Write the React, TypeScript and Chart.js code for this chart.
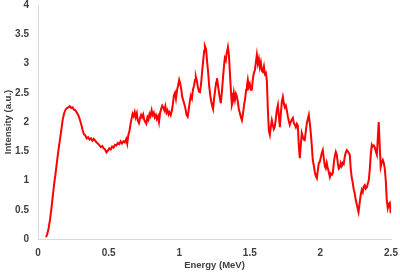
import React, { useEffect, useRef } from "react";
import { Chart, registerables } from "chart.js";

Chart.register(...registerables);

const energy: number[] = [
  0.057, 0.065, 0.075, 0.085, 0.095, 0.105, 0.115, 0.125, 0.135, 0.145, 0.155, 0.165, 0.175, 0.185, 0.195,
  0.205, 0.215, 0.225, 0.235, 0.245, 0.255, 0.265, 0.275, 0.285, 0.295, 0.305, 0.315, 0.325, 0.335, 0.345,
  0.355, 0.365, 0.375, 0.385, 0.395, 0.405, 0.415, 0.425, 0.435, 0.445, 0.455, 0.465, 0.475, 0.485, 0.495,
  0.505, 0.515, 0.525, 0.535, 0.545, 0.555, 0.565, 0.575, 0.585, 0.595, 0.605, 0.615, 0.625, 0.632, 0.64,
  0.648, 0.655, 0.662, 0.67, 0.677, 0.685, 0.692, 0.7, 0.707, 0.715, 0.722, 0.73, 0.737, 0.745, 0.752,
  0.76, 0.767, 0.775, 0.782, 0.79, 0.797, 0.805, 0.812, 0.82, 0.827, 0.835, 0.842, 0.85, 0.857, 0.865,
  0.872, 0.88, 0.887, 0.895, 0.902, 0.91, 0.917, 0.925, 0.932, 0.94, 0.947, 0.955, 0.962, 0.97, 0.977,
  0.985, 0.992, 1.0, 1.007, 1.015, 1.022, 1.03, 1.037, 1.045, 1.052, 1.06, 1.067, 1.075, 1.082, 1.09,
  1.097, 1.105, 1.112, 1.118, 1.125, 1.132, 1.14, 1.147, 1.155, 1.162, 1.17, 1.177, 1.182, 1.19, 1.197,
  1.205, 1.212, 1.22, 1.227, 1.235, 1.24, 1.247, 1.255, 1.262, 1.267, 1.275, 1.282, 1.29, 1.295, 1.302,
  1.31, 1.317, 1.323, 1.33, 1.337, 1.345, 1.352, 1.36, 1.367, 1.373, 1.38, 1.387, 1.395, 1.402, 1.408,
  1.415, 1.422, 1.43, 1.437, 1.444, 1.452, 1.46, 1.467, 1.474, 1.48, 1.486, 1.493, 1.5, 1.507, 1.514,
  1.52, 1.527, 1.536, 1.543, 1.55, 1.557, 1.564, 1.571, 1.578, 1.585, 1.592, 1.6, 1.607, 1.614, 1.621,
  1.628, 1.635, 1.642, 1.649, 1.656, 1.663, 1.67, 1.677, 1.684, 1.691, 1.699, 1.706, 1.713, 1.72, 1.727,
  1.734, 1.741, 1.748, 1.755, 1.762, 1.769, 1.776, 1.783, 1.79, 1.797, 1.805, 1.812, 1.819, 1.826, 1.833,
  1.84, 1.847, 1.854, 1.861, 1.868, 1.875, 1.882, 1.889, 1.897, 1.904, 1.911, 1.918, 1.925, 1.932, 1.939,
  1.946, 1.953, 1.96, 1.967, 1.975, 1.982, 1.989, 1.996, 2.003, 2.01, 2.017, 2.024, 2.031, 2.038, 2.045,
  2.052, 2.059, 2.067, 2.074, 2.081, 2.088, 2.095, 2.102, 2.109, 2.116, 2.123, 2.13, 2.137, 2.144, 2.151,
  2.158, 2.165, 2.172, 2.18, 2.187, 2.194, 2.201, 2.208, 2.215, 2.222, 2.229, 2.236, 2.243, 2.25, 2.257,
  2.264, 2.27, 2.277, 2.285, 2.293, 2.3, 2.307, 2.314, 2.321, 2.328, 2.336, 2.343, 2.35, 2.357, 2.364,
  2.371, 2.378, 2.385, 2.392, 2.4, 2.406, 2.413, 2.42, 2.427, 2.434, 2.442, 2.449, 2.456, 2.463, 2.47,
  2.477, 2.484, 2.491, 2.498,
];

const intensity: number[] = [
  0.03, 0.08, 0.18, 0.33, 0.52, 0.74, 0.95, 1.13, 1.33, 1.52, 1.69, 1.86, 2.04, 2.15, 2.21,
  2.24, 2.25, 2.27, 2.24, 2.25, 2.21, 2.2, 2.16, 2.12, 2.05, 1.97, 1.87, 1.79, 1.77, 1.72,
  1.74, 1.7, 1.72, 1.68, 1.71, 1.68, 1.65, 1.63, 1.6, 1.57, 1.59, 1.55, 1.53, 1.48, 1.51,
  1.55, 1.53, 1.58, 1.56, 1.61, 1.6, 1.64, 1.62, 1.67, 1.63, 1.67, 1.65, 1.71, 1.63, 1.78,
  1.85, 1.96, 2.05, 2.14, 2.1, 2.17, 2.08, 2.15, 2.02, 1.98, 2.06, 2.12, 2.08, 2.13, 2.04,
  2.0, 1.97, 2.08, 2.04, 2.14, 2.1, 2.2, 2.12, 2.16, 2.08, 2.12, 2.05, 2.1, 2.0, 2.16,
  2.22, 2.28, 2.25, 2.2, 2.27, 2.16, 2.2, 2.13, 2.17, 2.12, 2.18, 2.3, 2.45, 2.5, 2.4,
  2.55, 2.62, 2.72, 2.66, 2.55, 2.42, 2.36, 2.3, 2.22, 2.12, 2.09, 2.2, 2.35, 2.45, 2.4,
  2.55, 2.62, 2.72, 2.77, 2.7, 2.6, 2.52, 2.51, 2.65, 2.85, 3.05, 3.22, 3.3, 3.25, 3.05,
  2.85, 2.62, 2.45, 2.35, 2.26, 2.22, 2.4, 2.55, 2.68, 2.75, 2.62, 2.5, 2.38, 2.32, 2.5,
  2.75, 2.95, 3.09, 3.05, 3.18, 3.28, 3.15, 2.8, 2.5, 2.29, 2.35, 2.5, 2.38, 2.48, 2.44,
  2.35, 2.22, 2.15, 2.08, 2.03, 2.15, 2.3, 2.4, 2.55, 2.62, 2.72, 2.6, 2.65, 2.55, 2.55,
  2.7, 2.82, 2.89, 3.02, 3.15, 3.0, 3.08, 2.94, 3.02, 2.88, 2.86, 2.95, 2.82, 2.84, 2.7,
  2.2, 1.85, 1.78, 1.92, 2.03, 1.95, 1.88, 1.92, 2.05, 2.2, 2.29, 2.1, 1.91, 2.15, 2.35,
  2.43, 2.32, 2.25, 2.28, 2.2, 2.1, 2.02, 1.95, 2.0, 2.04, 2.07, 1.98, 1.95, 1.91, 1.97,
  1.94, 1.6, 1.38, 1.6, 1.81, 1.75, 1.7, 1.69, 1.85, 1.98, 2.05, 2.12, 1.98, 1.81, 1.6,
  1.35, 1.26, 1.15, 1.08, 1.04, 1.18, 1.3, 1.32, 1.4, 1.47, 1.52, 1.38, 1.25, 1.21, 1.3,
  1.22, 1.15, 1.06, 1.12, 1.1, 1.13, 1.3, 1.42, 1.49, 1.44, 1.3, 1.2, 1.22, 1.3, 1.25,
  1.3, 1.28, 1.4, 1.48, 1.52, 1.5, 1.47, 1.44, 1.2, 1.05, 0.96, 0.85, 0.78, 0.67, 0.6,
  0.52, 0.46, 0.6, 0.75, 0.84, 0.8, 0.9, 0.92, 0.86, 0.88, 0.95, 1.01, 1.2, 1.45, 1.61,
  1.58, 1.6, 1.57, 1.5, 1.44, 1.7, 2.0, 1.6, 1.23, 1.3, 1.35, 1.3, 1.2, 1.0, 0.67,
  0.53, 0.6, 0.62, 0.44,
];

const xTitle = "Energy (MeV)";
const yTitle = "Intensity (a.u.)";

export default function App() {
  const ref = useRef<HTMLCanvasElement | null>(null);

  useEffect(() => {
    document.body.style.margin = "0";
    if (!ref.current) return;
    const tickFont = { family: "'Liberation Sans', Arial, sans-serif", size: 10, weight: "bold" as const };
    const titleFont = { family: "'Liberation Sans', Arial, sans-serif", size: 9.5, weight: "bold" as const };
    const fmt = (v: any) => String(Number(v));
    const chart = new Chart(ref.current, {
      type: "line",
      data: {
        datasets: [
          {
            data: energy.map((e, i) => ({ x: e, y: intensity[i] })),
            borderColor: "#ff0000",
            borderWidth: 2,
            pointRadius: 0,
            tension: 0,
            fill: false,
          },
        ],
      },
      options: {
        animation: false,
        responsive: false,
        maintainAspectRatio: false,
        layout: { padding: { top: 5, right: 9, left: 0, bottom: 0 } },
        plugins: { legend: { display: false }, tooltip: { enabled: false } },
        scales: {
          x: {
            type: "linear",
            min: 0,
            max: 2.5,
            grid: { display: false, drawTicks: false },
            border: { display: true, color: "#d9d9d9", width: 1 },
            ticks: { stepSize: 0.5, color: "#404040", font: tickFont, padding: 8, maxRotation: 0, callback: fmt },
            title: { display: true, text: xTitle, color: "#404040", font: titleFont, padding: { top: 0, bottom: 1 } },
            afterFit: (s: any) => {
              s.height = 33;
              s.paddingLeft = 0;
              s.paddingRight = 0;
            },
          },
          y: {
            min: 0,
            max: 4,
            grid: { display: false, drawTicks: false },
            border: { display: true, color: "#d9d9d9", width: 1 },
            ticks: { stepSize: 0.5, color: "#404040", font: tickFont, padding: 9, callback: fmt },
            title: { display: true, text: yTitle, color: "#404040", font: titleFont, padding: { top: 3, bottom: 0 } },
            afterFit: (s: any) => {
              s.width = 38;
              s.paddingTop = 0;
              s.paddingBottom = 0;
            },
          },
        },
      },
    });
    return () => chart.destroy();
  }, []);

  return <canvas ref={ref} width={400} height={272} style={{ display: "block" }} />;
}
